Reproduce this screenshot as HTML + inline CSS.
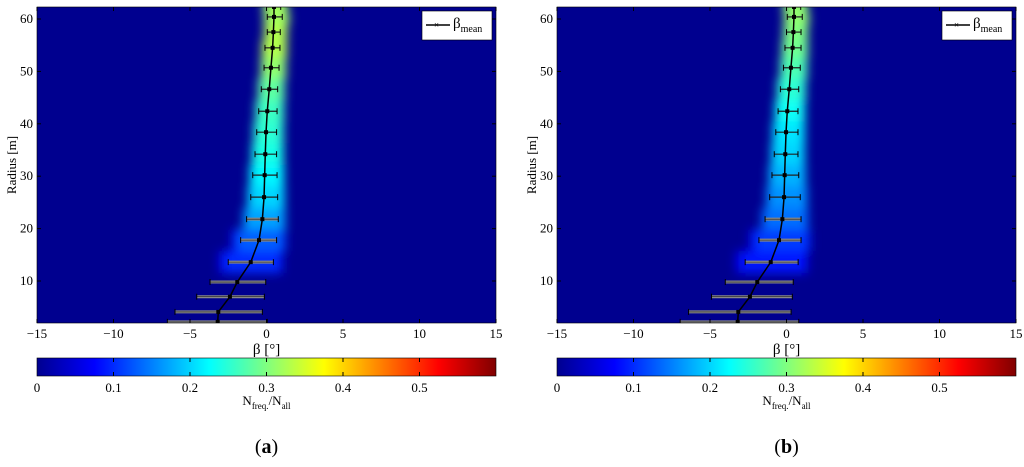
<!DOCTYPE html>
<html><head><meta charset="utf-8"><style>
body{margin:0;background:#fff;width:1024px;height:462px;overflow:hidden}
svg text{font-family:"Liberation Serif","Times New Roman",serif}
</style></head><body>
<svg id="s" width="1024" height="462" font-family="Liberation Serif, serif">
<defs>
<filter id="bl" x="-50%" y="-10%" width="200%" height="120%"><feGaussianBlur stdDeviation="5"/></filter>
<linearGradient id="jet" x1="0" x2="1" y1="0" y2="0">
<stop offset="0" stop-color="#00008f"/><stop offset="0.125" stop-color="#0000ff"/><stop offset="0.375" stop-color="#00ffff"/><stop offset="0.625" stop-color="#ffff00"/><stop offset="0.875" stop-color="#ff0000"/><stop offset="1" stop-color="#800000"/>
</linearGradient>
</defs>
</svg>
<script>
const radii=[62.3,60.4,57.5,54.5,50.7,46.6,42.4,38.4,34.2,30.2,26.0,21.8,17.8,13.6,9.8,7.0,4.1,2.2];
const meanBeta=[0.49,0.49,0.45,0.4,0.29,0.18,0.05,-0.03,-0.08,-0.12,-0.16,-0.27,-0.49,-1.03,-1.91,-2.39,-3.15,-3.19];
const lowA=[0.0,0.05,0.05,-0.1,-0.16,-0.34,-0.51,-0.64,-0.75,-0.9,-1.03,-1.3,-1.69,-2.5,-3.69,-4.56,-5.98,-6.48];
const highA=[0.93,1.03,0.9,0.88,0.82,0.73,0.69,0.66,0.66,0.69,0.73,0.77,0.66,0.45,-0.05,-0.14,-0.27,0.05];
const densA=[0.32,0.32,0.33,0.33,0.31,0.28,0.26,0.25,0.24,0.22,0.2,0.17,0.13,0.1,0,0,0,0];
const lowB=[0.0,0.05,0.0,-0.1,-0.2,-0.4,-0.55,-0.7,-0.8,-0.95,-1.1,-1.4,-1.8,-2.7,-4.0,-4.9,-6.4,-6.95];
const highB=[0.93,1.03,0.95,0.95,0.9,0.8,0.75,0.75,0.75,0.8,0.9,0.95,0.95,0.76,0.44,0.38,0.3,0.8];
const densB=[0.31,0.31,0.3,0.29,0.27,0.25,0.23,0.21,0.2,0.18,0.16,0.14,0.11,0.09,0,0,0,0];
const xTicks=[-15,-10,-5,0,5,10,15];
const yTicks=[10,20,30,40,50,60];
const cbTicks=[0,0.1,0.2,0.3,0.4,0.5];
const NS="http://www.w3.org/2000/svg",svg=document.getElementById('s');
function el(t,a,p){const e=document.createElementNS(NS,t);for(const k in a)e.setAttribute(k,a[k]);if(t==='text')e.setAttribute('font-family','Liberation Serif, serif');(p||svg).appendChild(e);return e;}
function jet(v){let t=Math.min(1,Math.max(0,v/0.6));const r=Math.min(1,Math.max(0,1.5-Math.abs(4*t-3))),g=Math.min(1,Math.max(0,1.5-Math.abs(4*t-2))),b=Math.min(1,Math.max(0,1.5-Math.abs(4*t-1)));return `rgb(${r*255|0},${g*255|0},${b*255|0})`;}
function panel(off,low,high,dens,lab){
 const L=37+off,R=496+off,T=7,B=323;
 const xs=b=>L+(b+15)/30*(R-L), ys=r=>281-(r-10)*5.24;
 const g=el('g',{});
 const cp=el('clipPath',{id:'c'+lab},g);el('rect',{x:L,y:T,width:R-L,height:B-T},cp);
 const bg=el('rect',{x:L,y:T,width:R-L,height:B-T,fill:'#00008f'},g);
 const hm=el('g',{'clip-path':`url(#c${lab})`},g);const hb=el('g',{filter:'url(#bl)'},hm);
 
 for(let i=0;i<radii.length;i++){if(!dens[i])continue;
  const y0=i==0?T-10:(ys(radii[i])+ys(radii[i-1]))/2, y1=i==radii.length-1?B:(ys(radii[i])+ys(radii[i+1]))/2;
  if(radii[i]<20){const w=el('rect',{x:xs(low[i]-0.6),y:y0,width:xs(high[i]+0.6)-xs(low[i]-0.6),height:y1-y0+1,fill:jet(0.07)},hb);}
  const x0=xs(low[i]-0.2),x1=xs(high[i]+0.45);
  const c=el('rect',{x:x0,y:y0,width:x1-x0,height:y1-y0+1,fill:jet(dens[i])},hb);
  }
 const eg=el('g',{'clip-path':`url(#c${lab})`},g);
 for(let i=0;i<radii.length;i++){const y=ys(radii[i]),a=xs(low[i]),b=xs(high[i]);
  const e=el('line',{x1:a,x2:b,y1:y,y2:y,stroke:radii[i]<25?'#888':'#222','stroke-width':radii[i]<25?3:1.2},eg);
  
  if(radii[i]<25)el('line',{x1:a,x2:b,y1:y,y2:y,stroke:'#222','stroke-width':0.6},eg);
  for(const x of [a,b])el('line',{x1:x,x2:x,y1:y-3,y2:y+3,stroke:'#000','stroke-width':1},eg);}
 const p=el('polyline',{points:radii.map((r,i)=>xs(meanBeta[i])+','+ys(r)).join(' '),fill:'none',stroke:'#000','stroke-width':1.5},eg);
 
 radii.forEach((r,i)=>{const m=el('rect',{x:xs(meanBeta[i])-2,y:ys(r)-2,width:4,height:4,fill:'#000'},eg);});
 el('rect',{x:L,y:T,width:R-L,height:B-T,fill:'none',stroke:'#000','stroke-width':0.6},g);
 xTicks.forEach(t=>{const x=xs(t);el('line',{x1:x,x2:x,y1:B,y2:B-4,stroke:'#000'},g);el('line',{x1:x,x2:x,y1:T,y2:T+4,stroke:'#000'},g);
  const tx=el('text',{x:x,y:B+15,'text-anchor':'middle','font-size':13},g);tx.textContent=(t<0?'\u2212'+(-t):t);});
 yTicks.forEach(t=>{const y=ys(t);el('line',{x1:L,x2:L+4,y1:y,y2:y,stroke:'#000'},g);el('line',{x1:R,x2:R-4,y1:y,y2:y,stroke:'#000'},g);
  const tx=el('text',{x:L-4,y:y+4,'text-anchor':'end','font-size':13},g);tx.textContent=t;});
 const xl=el('text',{x:(L+R)/2,y:B+31,'text-anchor':'middle','font-size':15},g);xl.textContent='β [°]';
 const yl=el('text',{x:0,y:0,'text-anchor':'middle','font-size':13,transform:`translate(${L-21},${(T+B)/2}) rotate(-90)`},g);yl.textContent='Radius [m]';
 const lg=el('g',{},g);
 el('rect',{x:R-74,y:T+4,width:70,height:29,fill:'#fff',stroke:'#000','stroke-width':0.6},lg);
 el('line',{x1:R-70,x2:R-46,y1:T+18,y2:T+18,stroke:'#000','stroke-width':1.5},lg);
 el('text',{x:R-62,y:T+21,'font-size':9},lg).textContent='×';
 const lt=el('text',{x:R-43,y:T+21,'font-size':15},lg);lt.textContent='β';const sub=el('tspan',{'font-size':10,dy:4},lt);sub.textContent='mean';
 const cb=el('rect',{x:L,y:358,width:R-L,height:18,fill:'url(#jet)',stroke:'#000','stroke-width':0.6},g);
 cbTicks.forEach(t=>{const x=L+t/0.6*(R-L);if(t>0){el('line',{x1:x,x2:x,y1:358,y2:362,stroke:'#000'},g);el('line',{x1:x,x2:x,y1:376,y2:372,stroke:'#000'},g);}
  const tx=el('text',{x:x,y:392,'text-anchor':'middle','font-size':13},g);tx.textContent=t;});
 const ct=el('text',{x:(L+R)/2,y:405,'text-anchor':'middle','font-size':13},g);
 ct.appendChild(document.createTextNode('N'));let s1=el('tspan',{'font-size':9,dy:4},ct);s1.textContent='freq.';let s2=el('tspan',{dy:-4},ct);s2.textContent='/N';let s3=el('tspan',{'font-size':9,dy:4},ct);s3.textContent='all';
 const pl=el('text',{x:(L+R)/2,y:453,'text-anchor':'middle','font-size':20},g);
 pl.appendChild(document.createTextNode('('));const bb=el('tspan',{'font-weight':'bold'},pl);bb.textContent=lab;pl.appendChild(document.createTextNode(')'));
}
panel(0,lowA,highA,densA,'a');
panel(520,lowB,highB,densB,'b');
</script>
</body></html>
